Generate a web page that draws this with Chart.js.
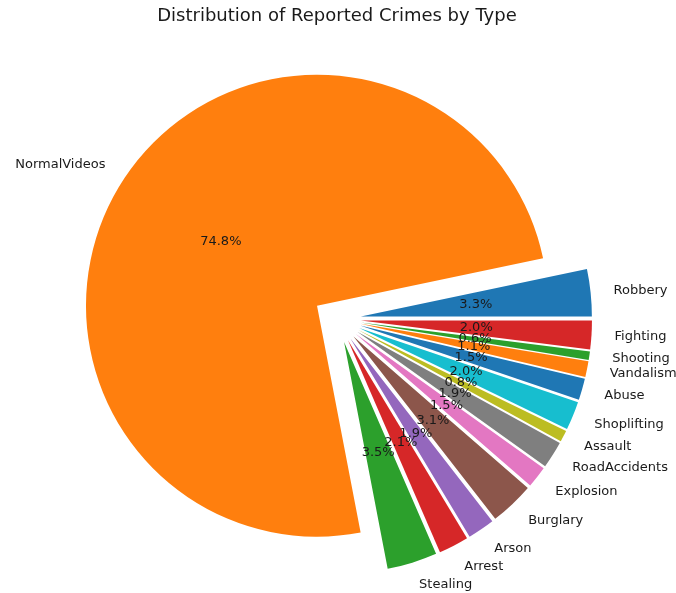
<!DOCTYPE html>
<html>
<head>
<meta charset="utf-8">
<script src="https://cdn.jsdelivr.net/npm/chart.js@4"></script>
<style>
  html, body { margin: 0; padding: 0; background: #fff; }
  #wrap { width: 676px; height: 593px; }
</style>
</head>
<body>
<div id="wrap"><canvas id="crimeChart"></canvas></div>
<script>
// Crime categories in the order matplotlib laid them out (counterclockwise from 3 o'clock)
const categories = ['Robbery', 'NormalVideos', 'Stealing', 'Arrest', 'Arson', 'Burglary', 'Explosion',
    'RoadAccidents', 'Assault', 'Shoplifting', 'Abuse', 'Vandalism', 'Shooting', 'Fighting'];
// Share of each category, in percent
const percentages = [3.3, 74.8, 3.5, 2.1, 1.9, 3.1, 1.5, 1.9, 0.8, 2.0, 1.5, 1.1, 0.6, 2.0];
const tab10 = ['#1f77b4', '#ff7f0e', '#2ca02c', '#d62728', '#9467bd',
    '#8c564b', '#e377c2', '#7f7f7f', '#bcbd22', '#17becf'];
const chartTitle = 'Distribution of Reported Crimes by Type';

const RADIUS = 231;   // pie radius in px
const EXPLODE = 24;   // how far each wedge is pulled out, px

// Chart.js draws clockwise, so reverse everything to get matplotlib's counterclockwise order
const labels = categories.slice().reverse();
const values = percentages.slice().reverse();
const colors = categories.map((c, i) => tab10[i % 10]).reverse();

// Draw every wedge pulled out along its middle angle (Chart.js' own offset also grows the radius)
const explodeWedges = {
    id: 'explodeWedges',
    beforeDatasetsDraw(chart) {
        const ctx = chart.ctx;
        chart.getDatasetMeta(0).data.forEach(arc => {
            const mid = (arc.startAngle + arc.endAngle) / 2;
            ctx.save();
            ctx.translate(Math.cos(mid) * EXPLODE, Math.sin(mid) * EXPLODE);
            arc.draw(ctx);
            ctx.restore();
        });
        return false;  // skip default drawing
    }
};

// Draws the title, category labels and percent labels like matplotlib's pie()
const pieText = {
    id: 'pieText',
    afterDraw(chart) {
        const ctx = chart.ctx;
        ctx.save();
        ctx.fillStyle = '#1a1a1a';
        ctx.font = '18px "DejaVu Sans"';
        ctx.textAlign = 'center';
        ctx.textBaseline = 'alphabetic';
        ctx.fillText(chartTitle, 337, 21);

        ctx.font = '13px "DejaVu Sans"';
        ctx.textBaseline = 'middle';
        chart.getDatasetMeta(0).data.forEach((arc, i) => {
            const mid = (arc.startAngle + arc.endAngle) / 2;
            const dx = Math.cos(mid), dy = Math.sin(mid);
            const cx = arc.x + dx * EXPLODE, cy = arc.y + dy * EXPLODE;
            const r = arc.outerRadius;

            ctx.textAlign = dx > 0 ? 'left' : 'right';
            ctx.fillText(labels[i], cx + dx * r * 1.1, cy + dy * r * 1.1);

            ctx.textAlign = 'center';
            ctx.fillText(values[i].toFixed(1) + '%', cx + dx * r * 0.5, cy + dy * r * 0.5);
        });
        ctx.restore();
    }
};

new Chart(document.getElementById('crimeChart'), {
    type: 'pie',
    data: {
        labels: labels,
        datasets: [{
            data: values,
            backgroundColor: colors,
            borderWidth: 0,
            hoverOffset: 0
        }]
    },
    options: {
        responsive: true,
        maintainAspectRatio: false,
        animation: false,
        rotation: 90,
        radius: RADIUS,
        layout: { padding: { top: 45, bottom: 0, left: 0, right: 2 } },
        plugins: {
            legend: { display: false },
            tooltip: { enabled: false },
            title: { display: false }
        }
    },
    plugins: [explodeWedges, pieText]
});
</script>
</body>
</html>
